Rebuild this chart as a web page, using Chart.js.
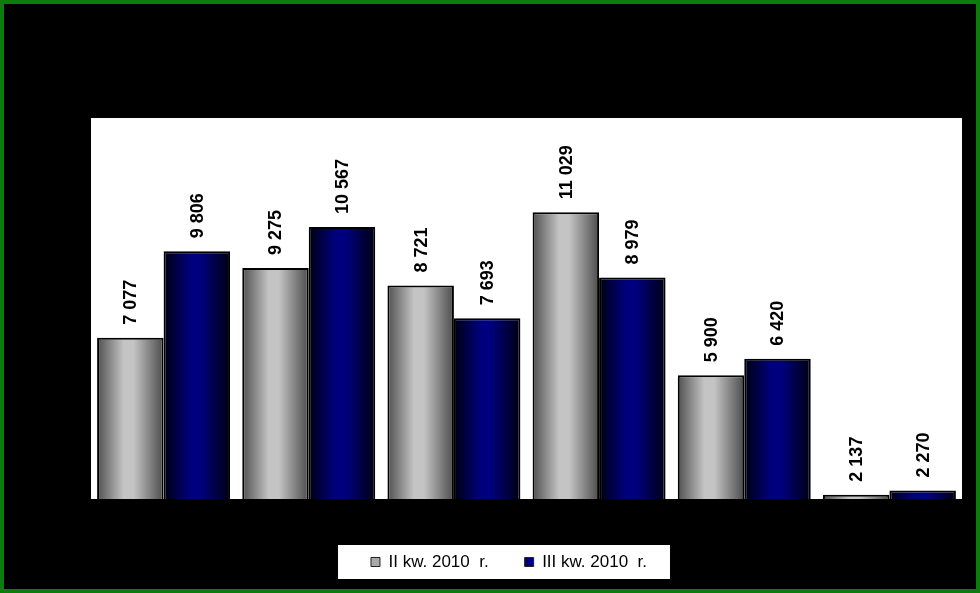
<!DOCTYPE html>
<html>
<head>
<meta charset="utf-8">
<script src="https://cdn.jsdelivr.net/npm/chart.js@4/dist/chart.umd.min.js"></script>
<style>
  html, body { margin: 0; padding: 0; background: #000; }
  #wrap { width: 980px; height: 593px; }
</style>
</head>
<body>
<div id="wrap"><canvas id="c" width="980" height="593"></canvas></div>
<script>
// ---- data ----
const categories = ['Grupa 1', 'Grupa 2', 'Grupa 3', 'Grupa 4', 'Grupa 5', 'Grupa 6'];
const seriesNames = ['II kw. 2010  r.', 'III kw. 2010  r.'];
const q2Values = [7077, 9275, 8721, 11029, 5900, 2137];
const q3Values = [9806, 10567, 7693, 8979, 6420, 2270];
const yMin = 2000;
const yMax = 14000;

// ---- styling ----
const CAT_PCT = 0.916;
const grayStops = ['#505050', '#c4c4c4', '#c4c4c4', '#4c4c4c'];
const blueStops = ['#000014', '#00007e', '#00007e', '#000010'];

function fmt(v) {
  return String(v).replace(/\B(?=(\d{3})+(?!\d))/g, ' ');
}

function barGradient(c, stops) {
  const chart = c.chart;
  const xs = chart.scales && chart.scales.x;
  if (!chart.chartArea || !xs || c.type !== 'data') return stops[1];
  const n = categories.length;
  const catW = xs.width / n;
  const pair = catW * CAT_PCT;
  const barW = pair / 2;
  const center = xs.getPixelForValue(c.dataIndex);
  const left = center - pair / 2 + c.datasetIndex * barW;
  const g = chart.ctx.createLinearGradient(left, 0, left + barW, 0);
  g.addColorStop(0, stops[0]);
  g.addColorStop(0.4, stops[1]);
  g.addColorStop(0.55, stops[2]);
  g.addColorStop(1, stops[3]);
  return g;
}

const framePlugin = {
  id: 'frame',
  afterLayout(chart) {
    const lg = chart.legend;
    if (lg) {
      const cx = 509, half = 400;
      lg.left = cx - half; lg.right = cx + half; lg.width = 2 * half;
      lg.top = 517.5; lg.bottom = lg.top + lg.height;
    }
  },
  beforeDraw(chart) {
    const ctx = chart.ctx;
    const W = chart.width, H = chart.height;
    ctx.save();
    ctx.fillStyle = '#000';
    ctx.fillRect(0, 0, W, H);
    // green frame
    ctx.fillStyle = '#0a7d0a';
    ctx.fillRect(0, 0, W, 4);
    ctx.fillRect(0, H - 4, W, 4);
    ctx.fillRect(0, 0, 4, H);
    ctx.fillRect(W - 4, 0, 4, H);
    // white plot area
    const a = chart.chartArea;
    ctx.fillStyle = '#fff';
    ctx.fillRect(a.left, a.top, a.right - a.left, a.bottom - a.top);
    // white legend box
    ctx.fillRect(338, 545, 332, 34);
    ctx.restore();
  },
  afterDatasetsDraw(chart) {
    const ctx = chart.ctx;
    ctx.save();
    ctx.font = 'bold 18px "Liberation Sans", Arial, sans-serif';
    ctx.fillStyle = '#000';
    ctx.textAlign = 'left';
    ctx.textBaseline = 'middle';
    chart.data.datasets.forEach((ds, di) => {
      const meta = chart.getDatasetMeta(di);
      meta.data.forEach((el, i) => {
        ctx.save();
        ctx.translate(el.x, el.y - 13);
        ctx.rotate(-Math.PI / 2);
        ctx.fillText(fmt(ds.data[i]), 0, 1);
        ctx.restore();
      });
    });
    ctx.restore();
  }
};

new Chart(document.getElementById('c'), {
  type: 'bar',
  data: {
    labels: categories,
    datasets: [
      {
        label: seriesNames[0],
        data: q2Values,
        backgroundColor: c => barGradient(c, grayStops),
        borderColor: '#000',
        borderWidth: 2,
        legendFill: '#a8a8a8'
      },
      {
        label: seriesNames[1],
        data: q3Values,
        backgroundColor: c => barGradient(c, blueStops),
        borderColor: '#000',
        borderWidth: 2,
        legendFill: '#00007e'
      }
    ]
  },
  options: {
    responsive: false,
    animation: false,
    devicePixelRatio: 1,
    layout: { padding: { left: 91, right: 18, top: 118, bottom: 31 } },
    datasets: { bar: { categoryPercentage: CAT_PCT, barPercentage: 1 } },
    scales: {
      x: { display: false, grid: { display: false } },
      y: { display: false, min: yMin, max: yMax, grid: { display: false } }
    },
    plugins: {
      tooltip: { enabled: false },
      legend: {
        position: 'bottom',
        labels: {
          color: '#000',
          boxWidth: 9,
          boxHeight: 9,
          padding: 36,
          font: { family: '"Liberation Sans", Arial, sans-serif', size: 17, lineHeight: 1 },
          generateLabels(chart) {
            return chart.data.datasets.map((ds, i) => ({
              text: ds.label,
              fillStyle: ds.legendFill,
              strokeStyle: '#222',
              lineWidth: 1,
              datasetIndex: i,
              hidden: false,
              fontColor: '#000'
            }));
          }
        }
      }
    }
  },
  plugins: [framePlugin]
});
</script>
</body>
</html>
